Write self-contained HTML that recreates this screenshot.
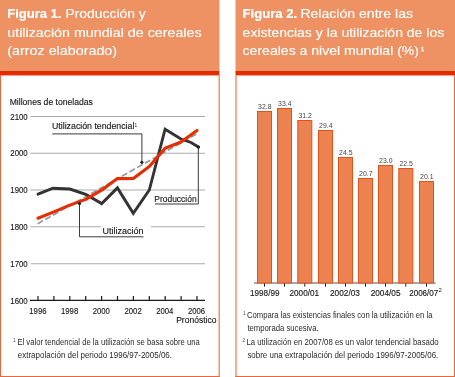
<!DOCTYPE html>
<html><head><meta charset="utf-8">
<style>
html,body{margin:0;padding:0;background:#fff;}
body{width:455px;height:377px;overflow:hidden;}
svg{display:block;will-change:transform;}
text{font-family:"Liberation Sans",sans-serif;}
.dk text{stroke:#1A1A1A;stroke-width:0.14px;}
</style></head><body>
<svg width="455" height="377" viewBox="0 0 455 377">
<rect x="0" y="0" width="219.4" height="71" fill="#EE9263"/>
<rect x="0" y="71" width="219.4" height="4" fill="#E22C00"/>
<rect x="1" y="75" width="217.6" height="1" fill="#F3A48F"/>
<rect x="0" y="75" width="1" height="302" fill="#E9673F"/>
<rect x="218.5" y="75" width="1.4" height="302" fill="#EE8A6A"/>
<rect x="0" y="376" width="219.6" height="1" fill="#E9673F"/>
<rect x="235.5" y="0" width="219.5" height="71" fill="#EE9263"/>
<rect x="235.5" y="71" width="219.5" height="4" fill="#E22C00"/>
<rect x="236.7" y="75" width="217.3" height="1" fill="#F3A48F"/>
<rect x="235.3" y="75" width="1.4" height="302" fill="#EE8A6A"/>
<rect x="454" y="75" width="1" height="302" fill="#E9673F"/>
<rect x="235.3" y="376" width="219.7" height="1" fill="#E9673F"/>
<g fill="#fff" stroke="#fff" stroke-width="0.12" font-size="13.5">
<text x="7.2" y="17.9" font-weight="bold" stroke-width="0.2" textLength="54.2" lengthAdjust="spacingAndGlyphs">Figura 1.</text>
<text x="65.4" y="17.9" textLength="80.4" lengthAdjust="spacingAndGlyphs">Producción y</text>
<text x="7.3" y="36.6" textLength="194.3" lengthAdjust="spacingAndGlyphs">utilización mundial de cereales</text>
<text x="7.3" y="55.2" textLength="109.8" lengthAdjust="spacingAndGlyphs">(arroz elaborado)</text>
<text x="242.5" y="17.9" font-weight="bold" stroke-width="0.2" textLength="54.6" lengthAdjust="spacingAndGlyphs">Figura 2.</text>
<text x="300.4" y="17.9" textLength="112.6" lengthAdjust="spacingAndGlyphs">Relación entre las</text>
<text x="242.6" y="36.6" textLength="201.6" lengthAdjust="spacingAndGlyphs">existencias y la utilización de los</text>
<text x="242.6" y="55.2" textLength="176.4" lengthAdjust="spacingAndGlyphs">cereales a nivel mundial (%)</text>
<text x="420.9" y="51" font-size="5.8" stroke-width="0.35">1</text>
</g>
<g class="dk">
<text x="9.7" y="105.1" font-size="8.5" fill="#1A1A1A" textLength="83.2" lengthAdjust="spacingAndGlyphs">Millones de toneladas</text>
<g font-size="8.7" fill="#1A1A1A">
<text x="10.3" y="119.6" textLength="17.4" lengthAdjust="spacingAndGlyphs">2100</text>
<text x="10.3" y="156.4" textLength="17.4" lengthAdjust="spacingAndGlyphs">2000</text>
<text x="10.3" y="193.1" textLength="17.4" lengthAdjust="spacingAndGlyphs">1900</text>
<text x="10.3" y="229.9" textLength="17.4" lengthAdjust="spacingAndGlyphs">1800</text>
<text x="10.3" y="266.9" textLength="17.4" lengthAdjust="spacingAndGlyphs">1700</text>
<text x="10.3" y="303.5" textLength="17.4" lengthAdjust="spacingAndGlyphs">1600</text>
</g>
<g stroke="#ABABAB" stroke-width="1.1">
<line x1="30.5" y1="116.5" x2="205" y2="116.5"/>
<line x1="30.5" y1="153.3" x2="205" y2="153.3"/>
<line x1="30.5" y1="190" x2="205" y2="190"/>
<line x1="30.5" y1="226.8" x2="205" y2="226.8"/>
<line x1="30.5" y1="263.8" x2="205" y2="263.8"/>
</g>
<g stroke="#1A1A1A" stroke-width="1.2">
<line x1="30" y1="300.4" x2="205" y2="300.4"/>
<line x1="38.0" y1="296" x2="38.0" y2="300.4"/>
<line x1="53.9" y1="296" x2="53.9" y2="300.4"/>
<line x1="69.8" y1="296" x2="69.8" y2="300.4"/>
<line x1="85.7" y1="296" x2="85.7" y2="300.4"/>
<line x1="101.6" y1="296" x2="101.6" y2="300.4"/>
<line x1="117.5" y1="296" x2="117.5" y2="300.4"/>
<line x1="133.4" y1="296" x2="133.4" y2="300.4"/>
<line x1="149.3" y1="296" x2="149.3" y2="300.4"/>
<line x1="165.2" y1="296" x2="165.2" y2="300.4"/>
<line x1="181.1" y1="296" x2="181.1" y2="300.4"/>
<line x1="197.0" y1="296" x2="197.0" y2="300.4"/>
</g>
<g font-size="8.6" fill="#1A1A1A">
<text x="29.3" y="313.7" textLength="17.2" lengthAdjust="spacingAndGlyphs">1996</text>
<text x="61.0" y="313.7" textLength="17.2" lengthAdjust="spacingAndGlyphs">1998</text>
<text x="92.7" y="313.7" textLength="17.2" lengthAdjust="spacingAndGlyphs">2000</text>
<text x="124.5" y="313.7" textLength="17.2" lengthAdjust="spacingAndGlyphs">2002</text>
<text x="156.2" y="313.7" textLength="17.2" lengthAdjust="spacingAndGlyphs">2004</text>
<text x="187.9" y="313.7" textLength="17.2" lengthAdjust="spacingAndGlyphs">2006</text>
</g>
<text x="176.2" y="322.9" font-size="8.8" fill="#1A1A1A" textLength="40.2" lengthAdjust="spacingAndGlyphs">Pronóstico</text>
<rect x="101" y="222" width="50" height="10" fill="#fff"/>
<line x1="37" y1="224.2" x2="197" y2="133.8" stroke="#9A9A9A" stroke-width="1.7" stroke-dasharray="6.2 2.6" stroke-dashoffset="8.1"/>
<polyline fill="none" stroke="#333" stroke-width="2.9" stroke-linejoin="miter" stroke-linecap="round" points="38,194.2 53,188.2 69.8,189 85.7,194.3 101.7,203.6 117.4,187.9 133.3,213.3 149.3,190 165.1,129.2 181,139 191,142.5 198.5,147"/>
<polyline fill="none" stroke="#E52D00" stroke-width="3.1" stroke-linejoin="round" stroke-linecap="round" points="38,218.2 53.9,211.9 69.8,205.1 85.7,199.4 101.6,190.2 117.4,178.6 133.3,178.5 149.3,166.5 165.1,148.2 181,142 197,130.4"/>
<g stroke="#3A3A3A" stroke-width="1" fill="none"><polyline points="52.3,133.9 141.9,133.9 141.9,162.3"/><polyline points="155,204 198.3,204 198.3,147"/><polyline points="79.5,203.5 79.5,236.8 143.5,236.8"/></g>
<g fill="#222"><circle cx="141.9" cy="162.3" r="1.6"/><circle cx="198.3" cy="147" r="1.6"/><circle cx="79.5" cy="203.5" r="1.6"/></g>
<text x="52.0" y="129.3" font-size="8.4" fill="#1A1A1A" textLength="82.4" lengthAdjust="spacingAndGlyphs">Utilización tendencial</text>
<text x="134.5" y="126.6" font-size="4.8" fill="#1A1A1A" style="stroke:none">1</text>
<text x="154.3" y="201.6" font-size="8.7" fill="#1A1A1A" textLength="42.3" lengthAdjust="spacingAndGlyphs">Producción</text>
<text x="102.4" y="234.1" font-size="8.8" fill="#1A1A1A" textLength="41.2" lengthAdjust="spacingAndGlyphs">Utilización</text>
</g>
<line x1="254" y1="283" x2="435.5" y2="283" stroke="#8C8C8C" stroke-width="1.5"/>
<g fill="#EB8250" stroke="#E4521C" stroke-width="1">
<rect x="257.50" y="111.50" width="14" height="171.50"/>
<rect x="277.50" y="108.50" width="14" height="174.50"/>
<rect x="297.80" y="120.50" width="14" height="162.50"/>
<rect x="318.50" y="130.50" width="14" height="152.50"/>
<rect x="338.50" y="157.50" width="14" height="125.50"/>
<rect x="358.50" y="178.50" width="14" height="104.50"/>
<rect x="378.50" y="165.50" width="14" height="117.50"/>
<rect x="398.80" y="168.50" width="14" height="114.50"/>
<rect x="419.50" y="181.50" width="14" height="101.50"/>
</g>
<g font-size="7" fill="#444">
<text x="258.1" y="109.2" textLength="13.4" lengthAdjust="spacingAndGlyphs">32.8</text>
<text x="278.1" y="106.2" textLength="13.4" lengthAdjust="spacingAndGlyphs">33.4</text>
<text x="298.4" y="118.2" textLength="13.4" lengthAdjust="spacingAndGlyphs">31.2</text>
<text x="319.1" y="128.2" textLength="13.4" lengthAdjust="spacingAndGlyphs">29.4</text>
<text x="339.1" y="155.2" textLength="13.4" lengthAdjust="spacingAndGlyphs">24.5</text>
<text x="359.1" y="176.2" textLength="13.4" lengthAdjust="spacingAndGlyphs">20.7</text>
<text x="379.1" y="163.2" textLength="13.4" lengthAdjust="spacingAndGlyphs">23.0</text>
<text x="399.4" y="166.2" textLength="13.4" lengthAdjust="spacingAndGlyphs">22.5</text>
<text x="420.1" y="179.2" textLength="13.4" lengthAdjust="spacingAndGlyphs">20.1</text>
</g>
<g stroke="#1A1A1A" stroke-width="1">
<line x1="264.5" y1="283.5" x2="264.5" y2="286.6"/>
<line x1="284.5" y1="283.5" x2="284.5" y2="286.6"/>
<line x1="304.8" y1="283.5" x2="304.8" y2="286.6"/>
<line x1="325.5" y1="283.5" x2="325.5" y2="286.6"/>
<line x1="345.5" y1="283.5" x2="345.5" y2="286.6"/>
<line x1="365.5" y1="283.5" x2="365.5" y2="286.6"/>
<line x1="385.5" y1="283.5" x2="385.5" y2="286.6"/>
<line x1="405.8" y1="283.5" x2="405.8" y2="286.6"/>
<line x1="426.5" y1="283.5" x2="426.5" y2="286.6"/>
</g>
<g class="dk" font-size="8.3" fill="#1A1A1A">
<text x="250.0" y="296.2" textLength="29.5" lengthAdjust="spacingAndGlyphs">1998/99</text>
<text x="289.5" y="296.2" textLength="29.6" lengthAdjust="spacingAndGlyphs">2000/01</text>
<text x="330.0" y="296.2" textLength="29.9" lengthAdjust="spacingAndGlyphs">2002/03</text>
<text x="370.7" y="296.2" textLength="29.8" lengthAdjust="spacingAndGlyphs">2004/05</text>
<text x="409.2" y="296.2" textLength="29.1" lengthAdjust="spacingAndGlyphs">2006/07</text>
</g>
<text x="438.4" y="291.8" font-size="6" fill="#1A1A1A">2</text>
<g font-size="8.2" fill="#2B2B2B">
<text x="13.0" y="342.0" font-size="4.8" fill="#555">1</text>
<text x="17.4" y="345.4" font-size="8.2" fill="#2B2B2B" textLength="182.4" lengthAdjust="spacingAndGlyphs">El valor tendencial de la utilización se basa sobre una</text>
<text x="17.8" y="358.3" font-size="8.2" fill="#2B2B2B" textLength="154.2" lengthAdjust="spacingAndGlyphs">extrapolación del periodo 1996/97-2005/06.</text>
<text x="243.0" y="314.8" font-size="4.8" fill="#555">1</text>
<text x="247.0" y="318.1" font-size="8.2" fill="#2B2B2B" textLength="185.5" lengthAdjust="spacingAndGlyphs">Compara las existencias finales con la utilización en la</text>
<text x="247.4" y="330.9" font-size="8.2" fill="#2B2B2B" textLength="71.2" lengthAdjust="spacingAndGlyphs">temporada sucesiva.</text>
<text x="242.6" y="342.2" font-size="4.8" fill="#555">2</text>
<text x="246.4" y="345.1" font-size="8.2" fill="#2B2B2B" textLength="192.2" lengthAdjust="spacingAndGlyphs">La utilización en 2007/08 es un valor tendencial basado</text>
<text x="247.4" y="357.6" font-size="8.2" fill="#2B2B2B" textLength="190.9" lengthAdjust="spacingAndGlyphs">sobre una extrapolación del periodo 1996/97-2005/06.</text>
</g>
</svg>
</body></html>
